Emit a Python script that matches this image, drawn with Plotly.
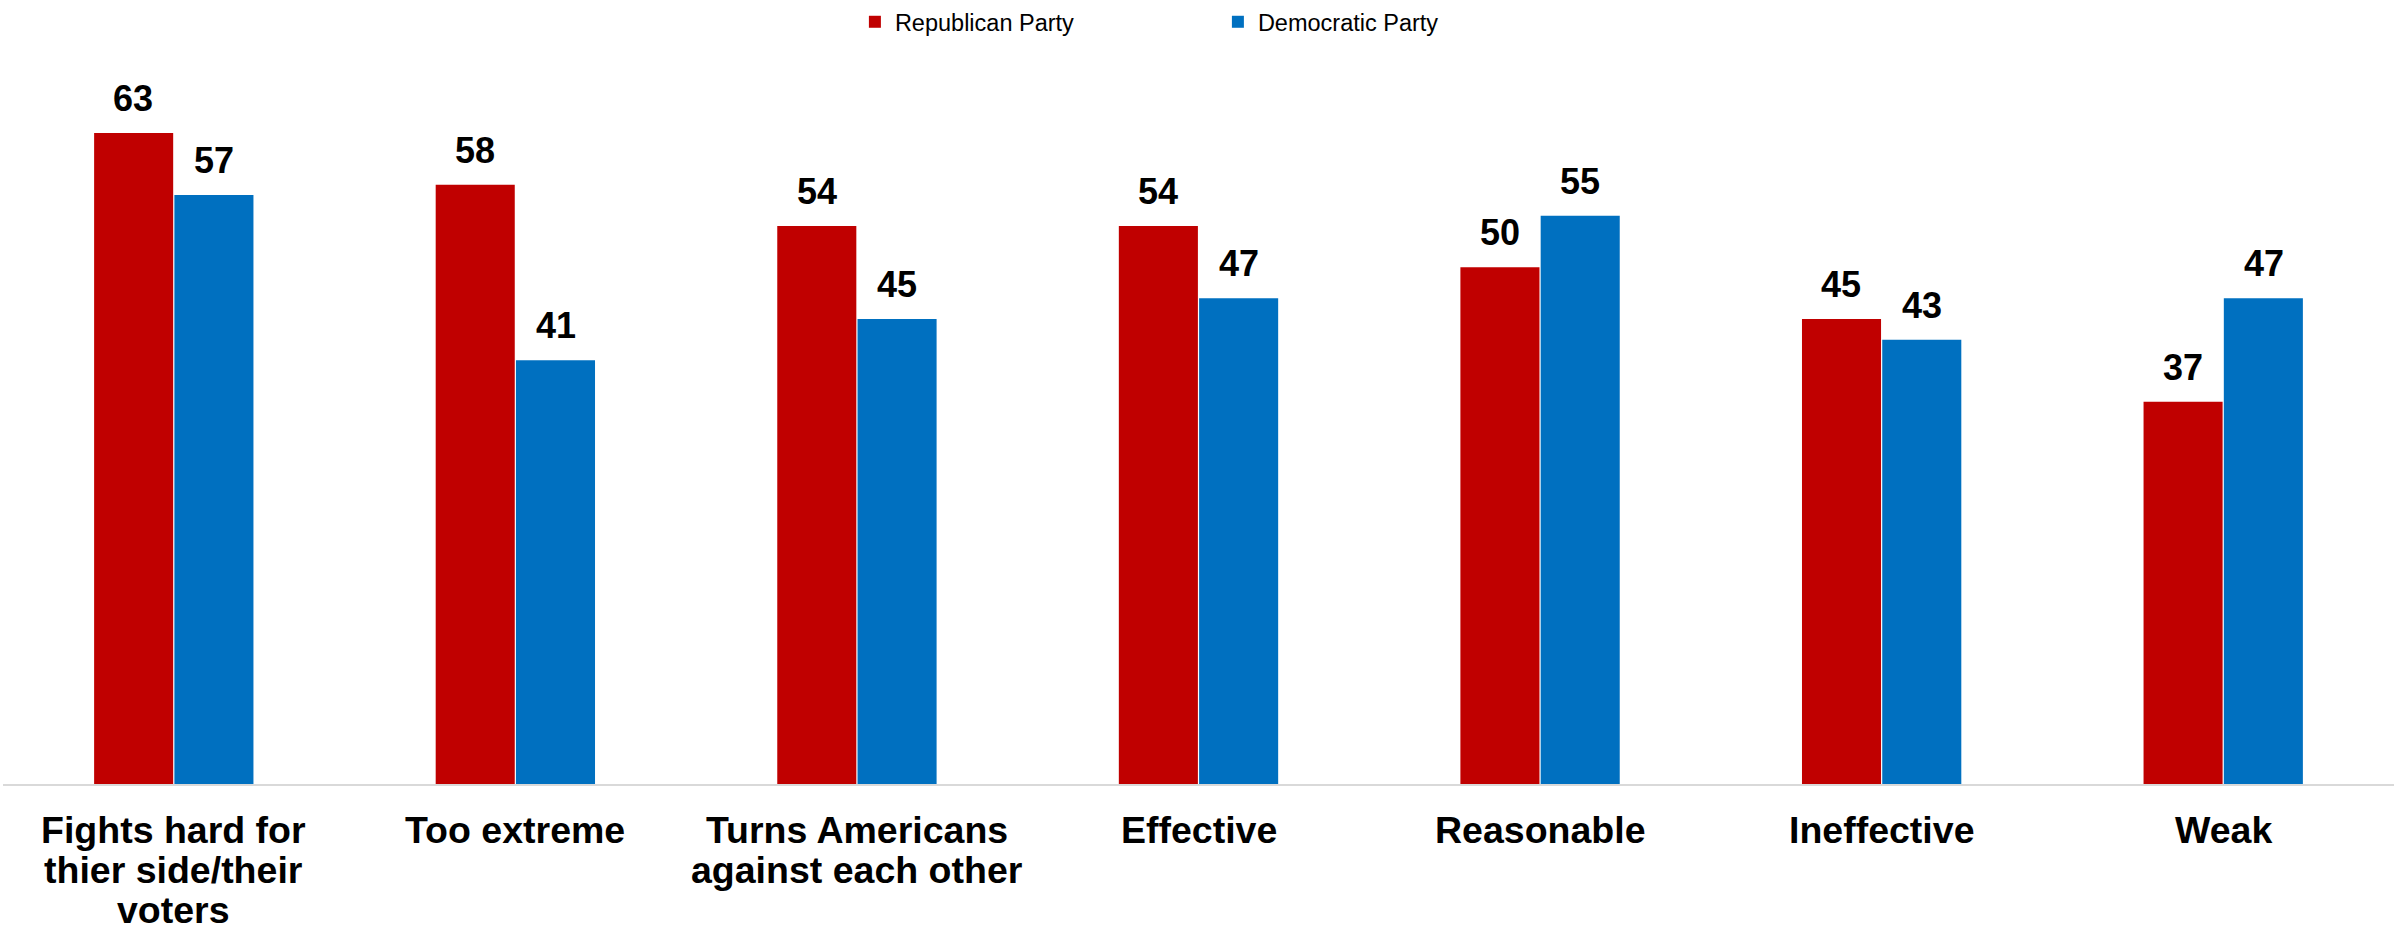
import plotly.graph_objects as go

categories = ["Fights hard for thier side/their voters", "Too extreme",
              "Turns Americans against each other", "Effective", "Reasonable",
              "Ineffective", "Weak"]
category_lines = [["Fights hard for", "thier side/their", "voters"], ["Too extreme"],
                  ["Turns Americans", "against each other"], ["Effective"], ["Reasonable"],
                  ["Ineffective"], ["Weak"]]
republican = [63, 58, 54, 54, 50, 45, 37]
democratic = [57, 41, 45, 47, 55, 43, 47]

RED = "#C00000"
BLUE = "#0070C0"
FONT = "Liberation Sans, Arial, sans-serif"

fig = go.Figure()
fig.add_trace(go.Bar(name="Republican Party", x=categories, y=republican,
                     marker=dict(color=RED, line=dict(width=0))))
fig.add_trace(go.Bar(name="Democratic Party", x=categories, y=democratic,
                     marker=dict(color=BLUE, line=dict(width=0))))

annotations = []
for i, (r, d) in enumerate(zip(republican, democratic)):
    for val, off in ((r, -0.118), (d, 0.118)):
        annotations.append(dict(x=i + off, y=val, xref="x", yref="y", text=f"<b>{val}</b>",
                                showarrow=False, yanchor="bottom", yshift=12,
                                font=dict(family=FONT, size=36, color="#000000")))

# category labels (tight line spacing like the original)
for i, lines in enumerate(category_lines):
    for k, line in enumerate(lines):
        annotations.append(dict(x=categories[i], y=0, xref="x", yref="paper",
                                text=f"<b>{line}</b>", showarrow=False,
                                yanchor="top", xanchor="center", yshift=-23 - 40 * k,
                                font=dict(family=FONT, size=37.5, color="#000000")))

fig.update_layout(
    width=2394, height=930,
    margin=dict(l=3, r=0, t=40, b=146, autoexpand=False),
    paper_bgcolor="white", plot_bgcolor="white",
    barmode="group", bargap=0.53, bargroupgap=0.015,
    font=dict(family=FONT),
    legend=dict(orientation="h", xref="container", yref="container",
                x=0.3571, y=1.0, xanchor="left", yanchor="top",
                entrywidth=318, entrywidthmode="pixels",
                font=dict(family=FONT, size=23.5, color="#000000"),
                bgcolor="rgba(0,0,0,0)"),
    annotations=annotations,
    showlegend=True,
)
fig.update_xaxes(showline=True, linecolor="#D9D9D9", linewidth=2, ticks="",
                 showticklabels=False, automargin=False,
                 showgrid=False, zeroline=False)
fig.update_yaxes(range=[0, 72], visible=False, showgrid=False, zeroline=False,
                 automargin=False)

fig.write_html("out.html", config={"displayModeBar": False},
               post_script="document.body.style.margin='0px';document.body.style.overflow='hidden';")
